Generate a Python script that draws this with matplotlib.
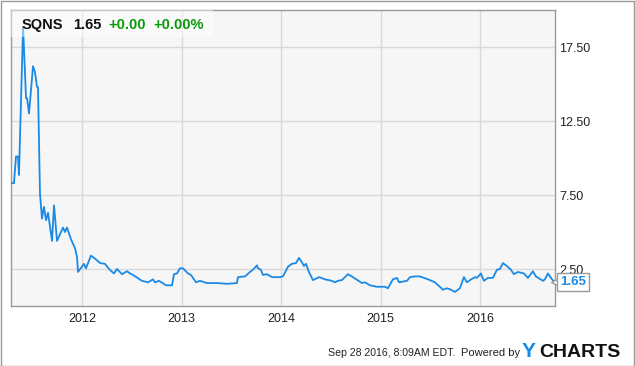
import matplotlib
matplotlib.use("Agg")
import matplotlib.pyplot as plt
from matplotlib.patches import Rectangle

plt.rcParams['font.family'] = ['Liberation Sans', 'DejaVu Sans']

# price history, decimal year vs close
years = [2011.287, 2011.317, 2011.337, 2011.357, 2011.367, 2011.408, 2011.438, 2011.448,
         2011.468, 2011.508, 2011.528, 2011.548, 2011.558, 2011.578, 2011.598, 2011.618,
         2011.639, 2011.659, 2011.699, 2011.719, 2011.749, 2011.769, 2011.809, 2011.829,
         2011.849, 2011.890, 2011.930, 2011.950, 2011.960, 2012.020, 2012.040, 2012.090,
         2012.131, 2012.181, 2012.231, 2012.271, 2012.321, 2012.351, 2012.402, 2012.452,
         2012.482, 2012.512, 2012.602, 2012.663, 2012.713, 2012.733, 2012.773, 2012.843,
         2012.904, 2012.924, 2012.954, 2012.984, 2013.014, 2013.064, 2013.094, 2013.145,
         2013.185, 2013.255, 2013.355, 2013.456, 2013.556, 2013.566, 2013.637, 2013.687,
         2013.717, 2013.757, 2013.767, 2013.797, 2013.817, 2013.857, 2013.908, 2013.988,
         2014.018, 2014.068, 2014.108, 2014.149, 2014.179, 2014.209, 2014.229, 2014.249,
         2014.279, 2014.319, 2014.380, 2014.440, 2014.510, 2014.540, 2014.570, 2014.610,
         2014.671, 2014.721, 2014.811, 2014.841, 2014.892, 2014.962, 2015.042, 2015.072,
         2015.122, 2015.163, 2015.183, 2015.263, 2015.293, 2015.343, 2015.394, 2015.414,
         2015.494, 2015.544, 2015.594, 2015.624, 2015.665, 2015.705, 2015.745, 2015.795,
         2015.835, 2015.865, 2015.896, 2015.946, 2015.966, 2016.006, 2016.036, 2016.076,
         2016.127, 2016.167, 2016.197, 2016.227, 2016.267, 2016.307, 2016.337, 2016.378,
         2016.438, 2016.478, 2016.528, 2016.558, 2016.629, 2016.649, 2016.679, 2016.709,
         2016.739]
prices = [8.3, 8.3, 10.1, 10.1, 8.85, 18.85, 14.05, 14.05,
          13.0, 16.2, 15.8, 14.8, 14.8, 7.6, 5.9, 6.7,
          5.8, 6.3, 4.4, 6.8, 4.4, 4.7, 5.3, 5.0,
          5.3, 4.5, 3.9, 3.3, 2.3, 2.85, 2.55, 3.4,
          3.2, 2.9, 2.85, 2.5, 2.2, 2.5, 2.15, 2.35,
          2.2, 2.1, 1.7, 1.6, 1.8, 1.6, 1.7, 1.4,
          1.4, 2.15, 2.2, 2.55, 2.55, 2.2, 2.1, 1.6,
          1.7, 1.55, 1.55, 1.5, 1.55, 1.95, 2.0, 2.3,
          2.45, 2.75, 2.55, 2.45, 2.1, 2.15, 1.95, 1.95,
          2.0, 2.65, 2.85, 2.9, 3.25, 2.95, 2.7, 2.85,
          2.3, 1.75, 1.95, 1.8, 1.7, 1.6, 1.7, 1.75,
          2.15, 1.95, 1.55, 1.6, 1.4, 1.3, 1.3, 1.2,
          1.8, 1.9, 1.6, 1.7, 1.95, 2.0, 2.0, 1.95,
          1.75, 1.6, 1.3, 1.1, 1.2, 1.1, 0.95, 1.2,
          1.95, 1.6, 1.75, 1.95, 1.9, 2.2, 1.7, 1.9,
          1.9, 2.45, 2.5, 2.9, 2.7, 2.45, 2.15, 2.3,
          2.2, 1.9, 2.35, 2.0, 1.7, 1.8, 2.2, 1.9,
          1.65]

year_ticks = [2012, 2013, 2014, 2015, 2016]
price_ticks = [2.5, 7.5, 12.5, 17.5]
price_labels = ['2.50', '7.50', '12.50', '17.50']

W, H = 635, 366
blue = '#1a8ae6'
green = '#0a9a0a'


def fx(px):
    return px / W


def fy(py):
    return 1 - py / H


fig = plt.figure(figsize=(W / 100, H / 100), dpi=100)
fig.patches.append(Rectangle((0.5 / W, 0.5 / H), 1 - 1.5 / W, 1 - 1.5 / H, transform=fig.transFigure,
                             fill=False, edgecolor='#999999', linewidth=1))

ax = fig.add_axes([fx(11), fy(306), fx(555 - 11), (306 - 10) / H])
ax.set_facecolor('#f6f6f6')
ax.plot(years, prices, color=blue, linewidth=1.3, zorder=3)

ax.set_xlim(2011.287, 2016.75)
ax.set_ylim(0, 20)
ax.set_xticks(year_ticks)
ax.set_xticklabels([str(y) for y in year_ticks])
ax.set_yticks(price_ticks)
ax.set_yticklabels(price_labels)
ax.yaxis.tick_right()
ax.tick_params(axis='both', length=0, labelsize=9, colors='#222222')
ax.tick_params(axis='y', pad=3)
ax.tick_params(axis='x', pad=5)
for lab in ax.get_yticklabels():
    lab.set_horizontalalignment('left')
ax.grid(True, color='#d9d9d9', linewidth=1)
ax.set_axisbelow(True)
for s in ax.spines.values():
    s.set_color('#999999')
    s.set_linewidth(1)

# header box with ticker and change
ax.add_patch(Rectangle((0, 1), fx(213 - 11) / ax.get_position().width, -27 / 296,
                       transform=ax.transAxes, facecolor='white', alpha=0.45,
                       edgecolor='none', zorder=4))
fig.text(fx(22), fy(29), 'SQNS', fontsize=10.5, fontweight='bold', color='#111111')
fig.text(fx(73), fy(29), '1.65', fontsize=10.5, fontweight='bold', color='#111111')
fig.text(fx(108), fy(29), '+0.00', fontsize=10.5, fontweight='bold', color=green)
fig.text(fx(153), fy(29), '+0.00%', fontsize=10.5, fontweight='bold', color=green)

# last value flag
ax.plot([years[-1] + 0.03], [prices[-1]], marker='<', markersize=8, color='white',
        markeredgecolor='#999999', clip_on=False, zorder=5)
fig.text(fx(573), fy(282), '1.65', fontsize=9.5, fontweight='bold', color=blue,
         ha='center', va='center', zorder=6,
         bbox=dict(boxstyle='square,pad=0.2', facecolor='white', edgecolor='#999999', linewidth=1))

# footer
fig.text(fx(328), fy(356), 'Sep 28 2016, 8:09AM EDT.', fontsize=7.6, color='#222222')
fig.text(fx(520), fy(356), 'Powered by', fontsize=8, color='#222222', ha='right')
fig.text(fx(522), fy(357), 'Y', fontsize=15, fontweight='bold', color='#1a8ae6')
fig.text(fx(539), fy(357), 'CHARTS', fontsize=14, fontweight='bold', color='#111111')

fig.savefig('out.png', dpi=100)
